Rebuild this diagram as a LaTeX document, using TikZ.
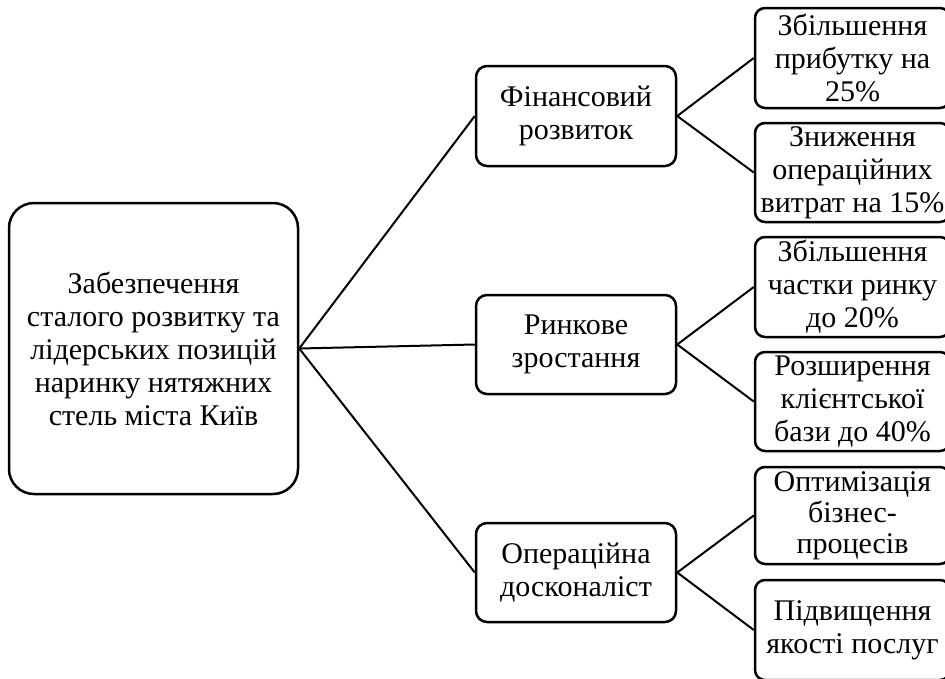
\documentclass[tikz,border=0pt]{standalone}
\usepackage{fontspec}
\setmainfont{Liberation Serif}
\begin{document}
\begin{tikzpicture}[x=1pt,y=-1pt,
  box/.style={draw=black, line width=2.5pt, fill=white, align=center, inner sep=0pt,
    font=\fontsize{30}{33}\selectfont},
  rootbox/.style={box, rounded corners=25pt},
  midbox/.style={box, rounded corners=11pt, minimum width=200pt},
  leafbox/.style={box, rounded corners=10pt, minimum width=195pt},
  link/.style={draw=black, line width=2pt}]
\useasboundingbox (0,0) rectangle (945,678);
\begin{scope}
\clip (0,0) rectangle (945,678);
\node[rootbox, minimum width=289pt, minimum height=291pt] (root) at (153.5,348.5)
  {Забезпечення\\сталого розвитку та\\лідерських позицій\\наринку нятяжних\\стель міста Київ};
\node[midbox, minimum height=100pt] (fin) at (576,116) {Фінансовий\\розвиток};
\node[midbox, minimum height=99pt] (mkt) at (576,344.5) {Ринкове\\зростання};
\node[midbox, minimum height=99pt] (ops) at (576,572.5) {Операційна\\досконаліст};
\node[leafbox, minimum height=100pt] (l1) at (852.5,58) {Збільшення\\прибутку на\\25\%};
\node[leafbox, minimum height=99pt] (l2) at (852.5,172.5) {Зниження\\операційних\\витрат на 15\%};
\node[leafbox, minimum height=100pt] (l3) at (852.5,287) {Збільшення\\частки ринку\\до 20\%};
\node[leafbox, minimum height=99pt] (l4) at (852.5,401.5) {Розширення\\клієнтської\\бази до 40\%};
\node[leafbox, minimum height=97pt, font=\fontsize{30}{31}\selectfont] (l5) at (852.5,515.5) {Оптимізація\\бізнес-\\процесів};
\node[leafbox, minimum height=100pt] (l6) at (852.5,630) {Підвищення\\якості послуг};
\draw[link] (root.east) -- (fin.west);
\draw[link] (root.east) -- (mkt.west);
\draw[link] (root.east) -- (ops.west);
\draw[link] (fin.east) -- (l1.west);
\draw[link] (fin.east) -- (l2.west);
\draw[link] (mkt.east) -- (l3.west);
\draw[link] (mkt.east) -- (l4.west);
\draw[link] (ops.east) -- (l5.west);
\draw[link] (ops.east) -- (l6.west);
\end{scope}
\end{tikzpicture}
\end{document}
